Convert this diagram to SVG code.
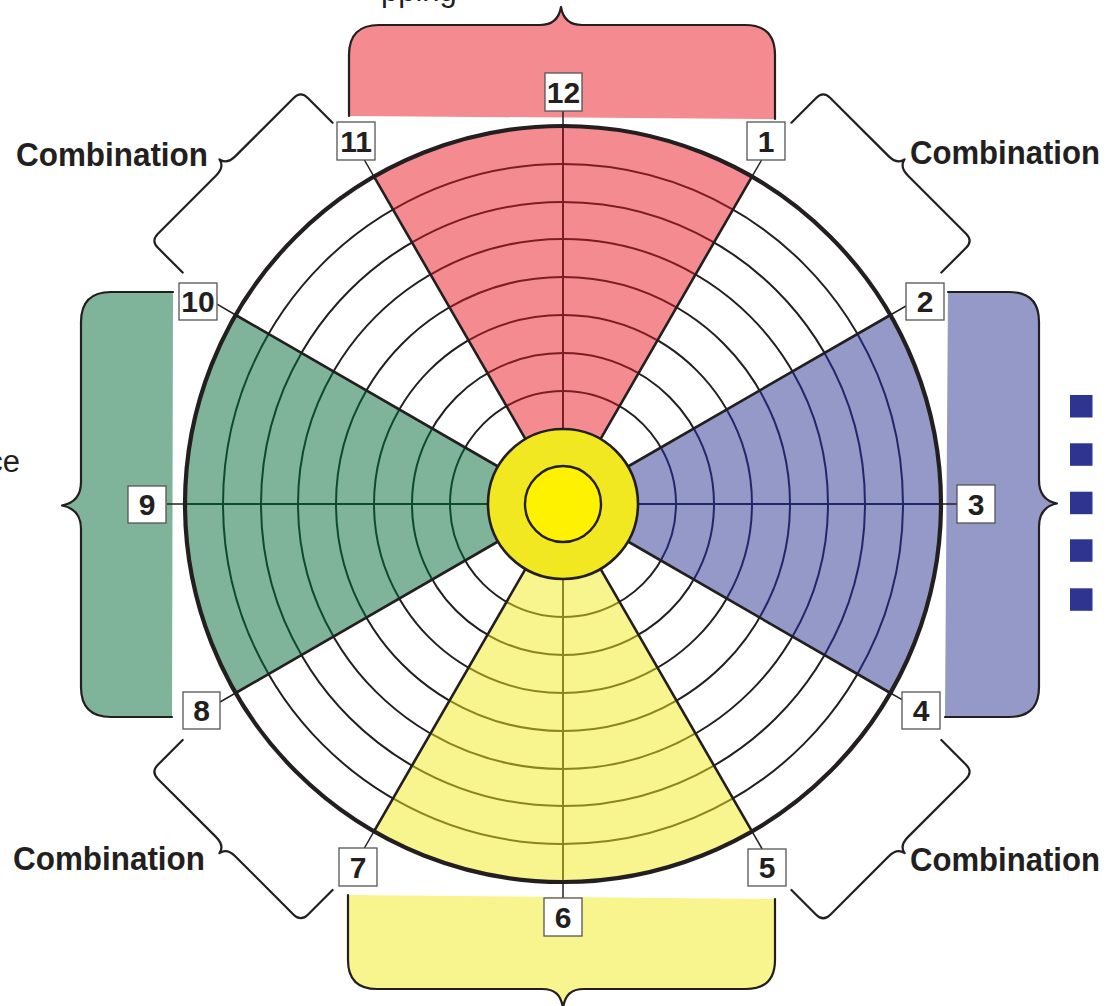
<svg xmlns="http://www.w3.org/2000/svg" width="1108" height="1006" viewBox="0 0 1108 1006">
  <style>
    .ink { stroke: #231f20; fill: none; }
    .brace { stroke: #231f20; stroke-width: 2.2; fill: none; stroke-linejoin: round; stroke-linecap: round; }
    .ring { stroke: #231f20; stroke-width: 2; fill: none; }
    .edge { stroke: #231f20; stroke-width: 2.6; fill: none; stroke-linecap: round; }
    .lead { stroke: #231f20; stroke-width: 1.5; fill: none; }
    .box { fill: #ffffff; stroke: #555555; stroke-width: 1.3; }
    .num { font-family: "Liberation Sans", Arial, sans-serif; font-weight: bold; font-size: 30px; fill: #231f20; text-anchor: middle; }
    .cap { font-family: "Liberation Sans", Arial, sans-serif; font-weight: bold; font-size: 33px; fill: #231f20; }
    .plain { font-family: "Liberation Sans", Arial, sans-serif; font-size: 31px; fill: #231f20; }
    .redArc { stroke: #7b1e23; stroke-width: 2; fill: none; }
    .bluArc { stroke: #22266a; stroke-width: 2; fill: none; }
    .yelArc { stroke: #8a8520; stroke-width: 2; fill: none; }
    .grnArc { stroke: #0e4a2c; stroke-width: 2; fill: none; }
  </style>
  <defs>
    <!-- open curly brace lying along x, tip toward -y, legs toward +y -->
    <path id="cornerBrace" d="M-106,45 L-106,10 Q-106,0 -96,0 L-14,0 C-6,0 -1,-3 0,-9 C1,-3 6,0 14,0 L96,0 Q106,0 106,10 L106,45"/>
  </defs>

  <rect width="1108" height="1006" fill="#ffffff"/>

  <!-- captions running off the page edges -->
  <text class="plain" x="20" y="472" text-anchor="end">ce</text>
  <text class="plain" x="381" y="1">pping</text>

  <!-- coloured group braces -->
  <g id="brace-top">
    <path d="M349,116 L349,55 Q349,25 379,25 L540,25 C552,25 559,19 561,7 C563,19 570,25 582,25 L745,25 Q775,25 775,55 L775,119 Z" fill="#f48b90"/>
    <path class="brace" d="M349,116 L349,55 Q349,25 379,25 L540,25 C552,25 559,19 561,7 C563,19 570,25 582,25 L745,25 Q775,25 775,55 L775,119"/>
  </g>
  <g id="brace-bottom">
    <path d="M348,895 L775,899 L775,960 Q775,989 746,989 L584,989 C571,989 565,995 563,1008 C561,995 555,989 542,989 L377,989 Q348,989 348,960 Z" fill="#f8f48e"/>
    <path class="brace" d="M348,895 L348,960 Q348,989 377,989 L542,989 C555,989 561,995 563,1008 C565,995 571,989 584,989 L746,989 Q775,989 775,960 L775,899"/>
  </g>
  <g id="brace-left">
    <path d="M173,292 L111,292 Q81,292 81,322 L81,482 C81,495 75,503 62,505.5 C75,508 81,516 81,529 L81,687 Q81,717 111,717 L172,717 Z" fill="#7fb39a"/>
    <path class="brace" d="M173,292 L111,292 Q81,292 81,322 L81,482 C81,495 75,503 62,505.5 C75,508 81,516 81,529 L81,687 Q81,717 111,717 L172,717"/>
  </g>
  <g id="brace-right">
    <path d="M948,292 L1009,292 Q1039,292 1039,322 L1039,480 C1039,493 1044,501 1057,503.5 C1044,506 1039,514 1039,527 L1039,687 Q1039,717 1009,717 L945,717 Z" fill="#9499c8"/>
    <path class="brace" d="M948,292 L1009,292 Q1039,292 1039,322 L1039,480 C1039,493 1044,501 1057,503.5 C1044,506 1039,514 1039,527 L1039,687 Q1039,717 1009,717 L945,717"/>
  </g>

  <!-- combination braces on the diagonals -->
  <g id="combo-top-left">
    <use href="#cornerBrace" class="brace" transform="translate(225.8,165.8) rotate(-45)"/>
    <text class="cap" x="16" y="166" textLength="192" lengthAdjust="spacingAndGlyphs">Combination</text>
  </g>
  <g id="combo-top-right">
    <use href="#cornerBrace" class="brace" transform="translate(898.2,165.8) rotate(45)"/>
    <text class="cap" x="910" y="164" textLength="190" lengthAdjust="spacingAndGlyphs">Combination</text>
  </g>
  <g id="combo-bottom-left">
    <use href="#cornerBrace" class="brace" transform="translate(225.8,846.8) rotate(-135)"/>
    <text class="cap" x="13" y="870" textLength="192" lengthAdjust="spacingAndGlyphs">Combination</text>
  </g>
  <g id="combo-bottom-right">
    <use href="#cornerBrace" class="brace" transform="translate(898.2,846.8) rotate(135)"/>
    <text class="cap" x="910" y="871" textLength="190" lengthAdjust="spacingAndGlyphs">Combination</text>
  </g>

  <!-- bullet squares -->
  <g id="bullets" fill="#2e3590">
    <rect x="1070" y="395" width="22.5" height="22.5"/>
    <rect x="1070" y="443.3" width="22.5" height="22.5"/>
    <rect x="1070" y="491.7" width="22.5" height="22.5"/>
    <rect x="1070" y="539.3" width="22.5" height="22.5"/>
    <rect x="1070" y="588.3" width="22.5" height="22.5"/>
  </g>

  <!-- wheel -->
  <g id="wheel">
    <circle cx="563" cy="504" r="378" fill="#ffffff"/>
    <g class="ring">
      <circle cx="563" cy="504" r="113"/>
      <circle cx="563" cy="504" r="151"/>
      <circle cx="563" cy="504" r="189"/>
      <circle cx="563" cy="504" r="227"/>
      <circle cx="563" cy="504" r="265"/>
      <circle cx="563" cy="504" r="302"/>
      <circle cx="563" cy="504" r="340"/>
    </g>

    <g id="sector-red">
      <path d="M563,504 L374,176.64 A378,378 0 0 1 752,176.64 Z" fill="#f48b90"/>
      <g class="redArc">
        <path d="M506.5,406.14 A113,113 0 0 1 619.5,406.14"/>
        <path d="M487.5,373.23 A151,151 0 0 1 638.5,373.23"/>
        <path d="M468.5,340.33 A189,189 0 0 1 657.5,340.33"/>
        <path d="M449.5,307.42 A227,227 0 0 1 676.5,307.42"/>
        <path d="M430.5,274.51 A265,265 0 0 1 695.5,274.51"/>
        <path d="M412,242.47 A302,302 0 0 1 714,242.47"/>
        <path d="M393,209.56 A340,340 0 0 1 733,209.56"/>
        <path d="M563,429 L563,126"/>
      </g>
    </g>
    <g id="sector-blue">
      <path d="M563,504 L890.36,315 A378,378 0 0 1 890.36,693 Z" fill="#9499c8"/>
      <g class="bluArc">
        <path d="M660.86,447.5 A113,113 0 0 1 660.86,560.5"/>
        <path d="M693.77,428.5 A151,151 0 0 1 693.77,579.5"/>
        <path d="M726.67,409.5 A189,189 0 0 1 726.67,598.5"/>
        <path d="M759.58,390.5 A227,227 0 0 1 759.58,617.5"/>
        <path d="M792.49,371.5 A265,265 0 0 1 792.49,636.5"/>
        <path d="M824.53,353 A302,302 0 0 1 824.53,655"/>
        <path d="M857.44,334 A340,340 0 0 1 857.44,674"/>
        <path d="M638,504 L941,504"/>
      </g>
    </g>
    <g id="sector-yellow">
      <path d="M563,504 L752,831.36 A378,378 0 0 1 374,831.36 Z" fill="#f8f48e"/>
      <g class="yelArc">
        <path d="M619.5,601.86 A113,113 0 0 1 506.5,601.86"/>
        <path d="M638.5,634.77 A151,151 0 0 1 487.5,634.77"/>
        <path d="M657.5,667.67 A189,189 0 0 1 468.5,667.67"/>
        <path d="M676.5,700.58 A227,227 0 0 1 449.5,700.58"/>
        <path d="M695.5,733.49 A265,265 0 0 1 430.5,733.49"/>
        <path d="M714,765.53 A302,302 0 0 1 412,765.53"/>
        <path d="M733,798.44 A340,340 0 0 1 393,798.44"/>
        <path d="M563,579 L563,882"/>
      </g>
    </g>
    <g id="sector-green">
      <path d="M563,504 L235.64,693 A378,378 0 0 1 235.64,315 Z" fill="#7fb39a"/>
      <g class="grnArc">
        <path d="M465.14,560.5 A113,113 0 0 1 465.14,447.5"/>
        <path d="M432.23,579.5 A151,151 0 0 1 432.23,428.5"/>
        <path d="M399.33,598.5 A189,189 0 0 1 399.33,409.5"/>
        <path d="M366.42,617.5 A227,227 0 0 1 366.42,390.5"/>
        <path d="M333.51,636.5 A265,265 0 0 1 333.51,371.5"/>
        <path d="M301.47,655 A302,302 0 0 1 301.47,353"/>
        <path d="M268.56,674 A340,340 0 0 1 268.56,334"/>
        <path d="M488,504 L185,504"/>
      </g>
    </g>

    <!-- sector borders -->
    <g class="edge">
      <path d="M525.5,439.05 L374,176.64"/>
      <path d="M600.5,439.05 L752,176.64"/>
      <path d="M627.95,466.5 L890.36,315"/>
      <path d="M627.95,541.5 L890.36,693"/>
      <path d="M600.5,568.95 L752,831.36"/>
      <path d="M525.5,568.95 L374,831.36"/>
      <path d="M498.05,541.5 L235.64,693"/>
      <path d="M498.05,466.5 L235.64,315"/>
    </g>

    <circle cx="563" cy="504" r="378" class="ink" stroke-width="4.2"/>

    <g id="hub">
      <circle cx="563" cy="504" r="75" fill="#f2e822" stroke="#231f20" stroke-width="2.6"/>
      <circle cx="563" cy="504" r="38" fill="#fff200" stroke="#231f20" stroke-width="2.4"/>
    </g>
  </g>

  <!-- leader lines from the rim to the position labels -->
  <g id="connectors" class="lead">
    <path d="M563,126 L563,111"/>
    <path d="M752,176.64 L761.6,160"/>
    <path d="M890.36,315 L906,306"/>
    <path d="M941,504 L957,504"/>
    <path d="M890.36,693 L902,699.7"/>
    <path d="M752,831.36 L762.2,849"/>
    <path d="M563,882 L563,898"/>
    <path d="M374,831.36 L364.4,848"/>
    <path d="M235.64,693 L220,702"/>
    <path d="M185,504 L167,504"/>
    <path d="M235.64,315 L217,304.2"/>
    <path d="M374,176.64 L364.4,160"/>
  </g>

  <!-- position labels -->
  <g id="label-12"><rect class="box" x="545" y="73" width="37" height="38"/><text class="num" x="563.5" y="103">12</text></g>
  <g id="label-1"><rect class="box" x="747" y="122" width="38" height="38"/><text class="num" x="766" y="152">1</text></g>
  <g id="label-2"><rect class="box" x="906" y="283" width="38" height="37"/><text class="num" x="925" y="312">2</text></g>
  <g id="label-3"><rect class="box" x="957" y="485" width="38" height="38"/><text class="num" x="976" y="515">3</text></g>
  <g id="label-4"><rect class="box" x="902" y="692" width="38" height="37"/><text class="num" x="921" y="721">4</text></g>
  <g id="label-5"><rect class="box" x="748" y="849" width="38" height="37"/><text class="num" x="767" y="878">5</text></g>
  <g id="label-6"><rect class="box" x="544" y="898" width="38" height="38"/><text class="num" x="563" y="928">6</text></g>
  <g id="label-7"><rect class="box" x="339" y="848" width="38" height="38"/><text class="num" x="358" y="878">7</text></g>
  <g id="label-8"><rect class="box" x="183" y="692" width="37" height="37"/><text class="num" x="201.5" y="721">8</text></g>
  <g id="label-9"><rect class="box" x="128" y="486" width="38" height="37"/><text class="num" x="147" y="515">9</text></g>
  <g id="label-10"><rect class="box" x="179" y="283" width="38" height="37"/><text class="num" x="198" y="312">10</text></g>
  <g id="label-11"><rect class="box" x="337" y="122" width="38" height="38"/><text class="num" x="356" y="152">11</text></g>
</svg>
